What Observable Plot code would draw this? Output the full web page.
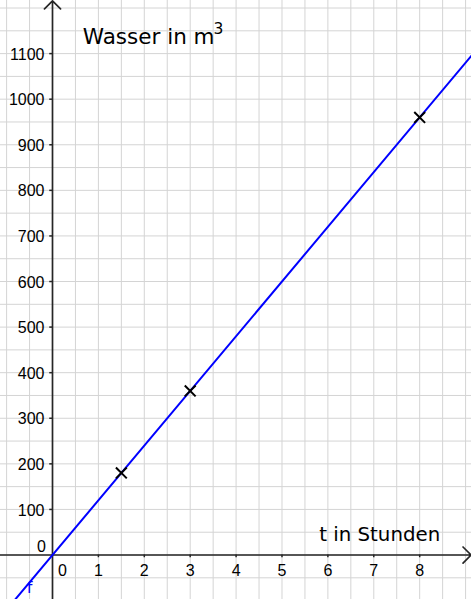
<!DOCTYPE html>
<html>
<head>
<meta charset="utf-8">
<script src="https://cdn.jsdelivr.net/npm/d3@7"></script>
<script src="https://cdn.jsdelivr.net/npm/@observablehq/plot@0.6"></script>
<style>
  html, body { margin: 0; padding: 0; background: #fff; }
  #chart svg { display: block; }
</style>
</head>
<body>
<div id="chart"></div>
<script>
// ---- data ----
const hours = [1.5, 3, 8];                 // t in Stunden (marked points)
const water = [180, 360, 960];             // Wasser in m³
const lineT = [-1.2, 9.2];                 // line f ends (t)
const lineW = [-144, 1104];                // line f ends (m³)
const xTickValues = [1, 2, 3, 4, 5, 6, 7, 8];
const yTickValues = [100, 200, 300, 400, 500, 600, 700, 800, 900, 1000, 1100];
const xLabel = "t in Stunden";
const yLabel = "Wasser in m";
const yLabelSup = "3";
const fLabel = "f";

const xDomain = [-1.133, 9.129];
const yDomain = [-97.6, 1216.5];
const gridXs = d3.range(-1, 9.5, 0.5);
const gridYs = d3.range(-50, 1250, 50);

const pts = hours.map((t, i) => ({t, w: water[i]}));
const fLine = lineT.map((t, i) => ({t, w: lineW[i]}));

const numFont = "Liberation Sans, Arial, sans-serif";
const txtFont = "DejaVu Sans, sans-serif";
const axisColor = "#262626";

const chart = Plot.plot({
  width: 471,
  height: 599,
  margin: 0,
  x: {domain: xDomain, axis: null},
  y: {domain: yDomain, axis: null},
  style: {background: "#fff", overflow: "hidden"},
  marks: [
    Plot.ruleX(gridXs, {stroke: "#d4d4d4", strokeWidth: 1}),
    Plot.ruleY(gridYs, {stroke: "#d4d4d4", strokeWidth: 1}),
    // axes
    Plot.arrow([0], {x1: xDomain[0], y1: 0, x2: xDomain[1] - 0.01, y2: 0, stroke: axisColor, strokeWidth: 1.7, headAngle: 90, headLength: 10}),
    Plot.arrow([0], {x1: 0, y1: yDomain[0], x2: 0, y2: yDomain[1] - 1, stroke: axisColor, strokeWidth: 1.7, headAngle: 90, headLength: 10}),
    // ticks
    Plot.ruleX(xTickValues, {y1: -6, y2: 0, stroke: axisColor, strokeWidth: 1.5}),
    Plot.ruleY(yTickValues, {x1: -0.06, x2: 0, stroke: axisColor, strokeWidth: 1.5}),
    // tick labels
    Plot.text(xTickValues, {x: d => d, y: 0, dy: 16, text: d => String(d), fontFamily: numFont, fontSize: 16, fill: "#000"}),
    Plot.text(yTickValues, {x: 0, y: d => d, dx: -8, dy: 1, textAnchor: "end", text: d => String(d), fontFamily: numFont, fontSize: 16, fill: "#000"}),
    Plot.text([0], {x: 0, y: 0, dx: 10, dy: 16, text: d => String(d), fontFamily: numFont, fontSize: 16, fill: "#000"}),
    Plot.text([0], {x: 0, y: 0, dx: -11, dy: -8, text: d => String(d), fontFamily: numFont, fontSize: 16, fill: "#000"}),
    // function line
    Plot.line(fLine, {x: "t", y: "w", stroke: "#0000ff", strokeWidth: 2}),
    Plot.text([fLabel], {x: -0.5, y: -72, text: d => d, fill: "#0000ff", fontFamily: txtFont, fontSize: 16}),
    // points
    Plot.dot(pts, {x: "t", y: "w", symbol: "times", r: 5, stroke: "#000", strokeWidth: 2}),
    // axis titles
    Plot.text([yLabel], {x: 0.66, y: 1122, text: d => d, textAnchor: "start", lineAnchor: "bottom", fontFamily: txtFont, fontSize: 21.5, fill: "#000"}),
    Plot.text([yLabelSup], {x: 3.51, y: 1144, text: d => d, textAnchor: "start", lineAnchor: "bottom", fontFamily: txtFont, fontSize: 15.5, fill: "#000"}),
    Plot.text([xLabel], {x: 5.81, y: 30, text: d => d, textAnchor: "start", lineAnchor: "bottom", fontFamily: txtFont, fontSize: 19.8, fill: "#000"})
  ]
});
document.getElementById("chart").appendChild(chart);
</script>
</body>
</html>
